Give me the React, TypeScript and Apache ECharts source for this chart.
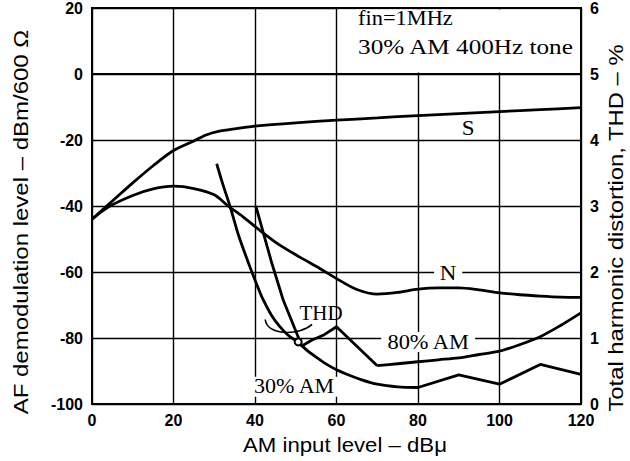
import React, { useEffect, useRef } from "react";
import * as echarts from "echarts";

// ---- data ----
const xTicks = [0, 20, 40, 60, 80, 100, 120];
const leftTicks = [-100, -80, -60, -40, -20, 0, 20];
const rightTicks = [0, 1, 2, 3, 4, 5, 6];

// S curve (dBm, left axis)
const sX = [0, 5, 10, 15, 20, 25, 28, 31, 35, 40, 50, 60, 70, 80, 90, 100, 110, 120];
const sY = [-44, -38.5, -33, -27.8, -23.2, -20.3, -18.5, -17.4, -16.6, -15.8, -14.8, -14, -13.3, -12.6, -12, -11.4, -10.8, -10.2];

// N curve (dBm, left axis)
const nX = [0, 4, 10, 15, 20, 25, 30, 33.4, 37, 41, 46, 51, 56, 60, 65, 70, 75, 80, 85, 90, 95, 100, 105, 110, 115, 120];
const nY = [-44, -40.3, -36.8, -34.8, -34, -34.7, -36.6, -40, -43.2, -47.2, -51.8, -55.5, -59, -62, -65.3, -66.7, -66.2, -65.2, -64.8, -64.8, -65.4, -66.3, -66.9, -67.3, -67.6, -67.7];

// THD, 30% AM (%, right axis): smooth part and kinked part
const thd30aX = [30.6, 32, 34, 36, 38.8, 40.5, 42, 44, 46, 48, 50.6, 53, 55, 57.6, 60, 63, 66, 70, 75, 80];
const thd30aY = [3.64, 3.35, 2.97, 2.55, 2.07, 1.8, 1.58, 1.35, 1.18, 1.05, 0.93, 0.8, 0.71, 0.6, 0.52, 0.44, 0.37, 0.3, 0.26, 0.25];
const thd30bX = [80, 90, 100, 110, 120];
const thd30bY = [0.25, 0.44, 0.3, 0.6, 0.45];

// THD, 80% AM (%, right axis): kinked part and smooth part
const thd80aX = [40.2, 44.1, 46.9, 51.5, 54, 57, 60, 70];
const thd80aY = [3.0, 2.14, 1.58, 0.88, 0.97, 1.05, 1.17, 0.58];
const thd80bX = [70, 75, 80, 85, 90, 95, 100, 105, 110, 115, 120];
const thd80bY = [0.58, 0.61, 0.64, 0.67, 0.7, 0.75, 0.8, 0.9, 1.02, 1.19, 1.38];

const zip = (xs: number[], ys: number[]) => xs.map((x, i) => [x, ys[i]]);

const SANS = "Liberation Sans";
const SERIF = "Liberation Serif";

export default function App() {
  const ref = useRef<HTMLDivElement>(null);

  useEffect(() => {
    const el = ref.current!;
    const chart = echarts.init(el, null, { renderer: "svg" });
    const lineStyle = { color: "#000", width: 2.8 };
    const base = {
      type: "line" as const,
      showSymbol: false,
      symbol: "none",
      lineStyle,
      z: 3,
    };
    const tickLabel = {
      color: "#000",
      fontFamily: SANS,
      fontWeight: "bold" as const,
      fontSize: 16,
    };

    chart.setOption({
      animation: false,
      backgroundColor: "#fff",
      grid: {
        left: 92,
        right: 49,
        top: 7,
        bottom: 57,
        show: true,
        borderColor: "#000",
        borderWidth: 2,
        backgroundColor: "transparent",
      },
      xAxis: {
        type: "value",
        min: xTicks[0],
        max: xTicks[xTicks.length - 1],
        interval: 20,
        axisLine: { show: true, lineStyle: { color: "#000", width: 2 } },
        axisTick: { show: false },
        splitLine: { show: true, lineStyle: { color: "#000", width: 1.4 } },
        axisLabel: { ...tickLabel, margin: 8 },
      },
      yAxis: [
        {
          type: "value",
          min: leftTicks[0],
          max: leftTicks[leftTicks.length - 1],
          interval: 20,
          axisLine: { show: true, lineStyle: { color: "#000", width: 2 } },
          axisTick: { show: false },
          splitLine: { show: true, lineStyle: { color: "#000", width: 1.4 } },
          axisLabel: { ...tickLabel, margin: 9 },
        },
        {
          type: "value",
          position: "right",
          min: rightTicks[0],
          max: rightTicks[rightTicks.length - 1],
          interval: 1,
          axisLine: { show: true, lineStyle: { color: "#000", width: 2 } },
          axisTick: { show: false },
          splitLine: { show: false },
          axisLabel: { ...tickLabel, margin: 9 },
        },
      ],
      series: [
        { ...base, name: "S", data: zip(sX, sY), smooth: 0.3, yAxisIndex: 0 },
        { ...base, name: "N", data: zip(nX, nY), smooth: 0.3, yAxisIndex: 0 },
        { ...base, name: "THD 30% AM", data: zip(thd30aX, thd30aY), smooth: 0.3, yAxisIndex: 1 },
        { ...base, name: "THD 30% AM b", data: zip(thd30bX, thd30bY), smooth: false, yAxisIndex: 1 },
        { ...base, name: "THD 80% AM", data: zip(thd80aX, thd80aY), smooth: false, yAxisIndex: 1 },
        { ...base, name: "THD 80% AM b", data: zip(thd80bX, thd80bY), smooth: 0.3, yAxisIndex: 1 },
      ],
    });

    const P = (x: number, y: number) =>
      chart.convertToPixel({ xAxisIndex: 0, yAxisIndex: 0 }, [x, y]) as number[];

    const serifText = (
      text: string,
      x: number,
      y: number,
      align: string,
      bg: boolean,
      sx = 1.15
    ) => {
      const p = P(x, y);
      return {
        type: "text",
        x: p[0],
        y: p[1],
        scaleX: sx,
        z: 20,
        style: {
          text,
          x: 0,
          y: 0,
          font: `20px "${SERIF}"`,
          fill: "#000",
          align,
          textAlign: align,
          verticalAlign: "middle",
          textVerticalAlign: "middle",
          backgroundColor: bg ? "#fff" : undefined,
          padding: bg ? [0, 5] : 0,
        },
      };
    };

    const axisName = (text: string, cx: number, cy: number, rot: number, sx: number) => ({
      type: "text",
      x: cx,
      y: cy,
      rotation: rot,
      scaleX: sx,
      z: 20,
      style: {
        text,
        x: 0,
        y: 0,
        font: `20px "${SANS}"`,
        fill: "#000",
        align: "center",
        textAlign: "center",
        verticalAlign: "middle",
        textVerticalAlign: "middle",
      },
    });

    const boxA = P(60, 20);
    const boxB = P(120, 0);
    const br1 = P(42.5, -74.4);
    const brC1 = P(43, -79.5);
    const brC2 = P(51, -79.2);
    const br2 = P(54, -75.9);
    const ring = P(50.6, -81.2);

    chart.setOption({
      graphic: [
        {
          type: "rect",
          z: 1,
          shape: {
            x: boxA[0] + 1.5,
            y: boxA[1] + 1.5,
            width: boxB[0] - boxA[0] - 3,
            height: boxB[1] - boxA[1] - 3,
          },
          style: { fill: "#fff" },
        },
        serifText("fin=1MHz", 65.3, 16.8, "left", false, 1.12),
        serifText("30% AM 400Hz tone", 65.3, 8, "left", false, 1.26),
        serifText("S", 92.3, -16.5, "center", false),
        serifText("N", 87.4, -60.6, "center", true),
        serifText("THD", 56.2, -72.5, "center", false, 1.05),
        serifText("80% AM", 82.5, -81.2, "center", true, 1.12),
        serifText("30% AM", 49.6, -94.8, "center", true, 1.1),
        axisName("AF demodulation level – dBm/600 Ω", 21, 222, Math.PI / 2, 1.2),
        axisName("Total harmonic distortion, THD – %", 616, 228, Math.PI / 2, 1.19),
        axisName("AM input level – dBμ", 345, 445, 0, 1.11),
        {
          type: "bezierCurve",
          z: 20,
          shape: {
            x1: br1[0],
            y1: br1[1],
            cpx1: brC1[0],
            cpy1: brC1[1],
            cpx2: brC2[0],
            cpy2: brC2[1],
            x2: br2[0],
            y2: br2[1],
          },
          style: { stroke: "#000", lineWidth: 1.6, fill: null },
        },
        {
          type: "circle",
          z: 20,
          shape: { cx: ring[0], cy: ring[1], r: 3.5 },
          style: { stroke: "#000", lineWidth: 2, fill: "#fff" },
        },
      ],
    });

    return () => chart.dispose();
  }, []);

  return (
    <div
      ref={ref}
      style={{
        position: "fixed",
        left: 0,
        top: 0,
        width: 630,
        height: 461,
        background: "#fff",
      }}
    />
  );
}
